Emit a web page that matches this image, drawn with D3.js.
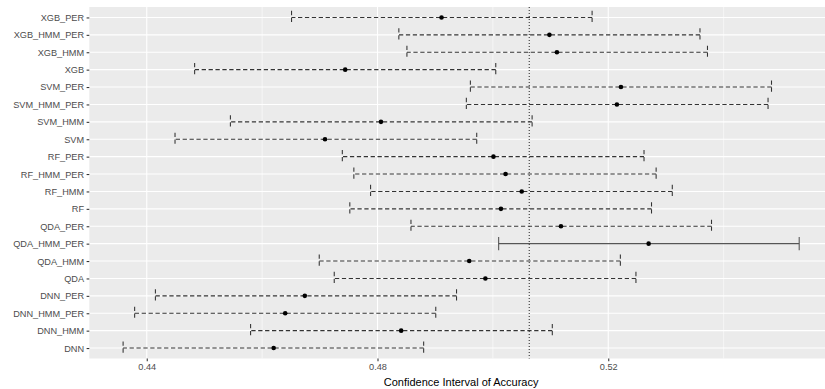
<!DOCTYPE html>
<html><head><meta charset="utf-8">
<script src="https://cdn.jsdelivr.net/npm/d3@7"></script>
<style>body{margin:0;background:#fff}svg{display:block}</style>
</head><body>
<svg id="c" width="825" height="389"></svg>
<script>
const models = ["XGB_PER","XGB_HMM_PER","XGB_HMM","XGB","SVM_PER","SVM_HMM_PER","SVM_HMM","SVM",
  "RF_PER","RF_HMM_PER","RF_HMM","RF","QDA_PER","QDA_HMM_PER","QDA_HMM","QDA",
  "DNN_PER","DNN_HMM_PER","DNN_HMM","DNN"];
const accuracy = [0.4911,0.5098,0.5111,0.4744,0.5222,0.5215,0.4806,0.4709,
  0.5001,0.5022,0.5050,0.5014,0.5118,0.5270,0.4959,0.4987,
  0.4674,0.4640,0.4841,0.4620];
const lower = [0.4651,0.4837,0.4851,0.4483,0.4961,0.4954,0.4545,0.4449,
  0.4739,0.4759,0.4788,0.4752,0.4858,0.5010,0.4699,0.4725,
  0.4415,0.4379,0.4580,0.4359];
const upper = [0.5172,0.5359,0.5372,0.5005,0.5483,0.5477,0.5068,0.4972,
  0.5262,0.5283,0.5311,0.5275,0.5379,0.5531,0.5221,0.5248,
  0.4937,0.4901,0.5103,0.4880];
const solidModel = "QDA_HMM_PER";
const referenceLine = 0.5063;
const xTicks = [0.44, 0.48, 0.52];
const xMinor = [0.46, 0.50, 0.54];
const xTitle = "Confidence Interval of Accuracy";

const svg = d3.select("#c");
const L = 89.3, R = 833, T = 7, B = 358.5;
const lo = d3.min(lower), hi = d3.max(upper), pad = (hi - lo) * 0.05;
const x = d3.scaleLinear().domain([lo - pad, hi + pad]).range([L, R]);
const y = d3.scalePoint().domain(models).range([T, B]).padding(0.6);

const font = "'Liberation Sans', Arial, sans-serif";
svg.append("rect").attr("x", L).attr("y", T).attr("width", R - L).attr("height", B - T).attr("fill", "#ebebeb");

const g = svg.append("g");
g.selectAll(".minor").data(xMinor).join("line")
  .attr("x1", d => x(d)).attr("x2", d => x(d)).attr("y1", T).attr("y2", B)
  .attr("stroke", "#fff").attr("stroke-width", 0.55);
g.selectAll(".majx").data(xTicks).join("line")
  .attr("x1", d => x(d)).attr("x2", d => x(d)).attr("y1", T).attr("y2", B)
  .attr("stroke", "#fff").attr("stroke-width", 1.1);
g.selectAll(".majy").data(models).join("line")
  .attr("x1", L).attr("x2", R).attr("y1", d => y(d)).attr("y2", d => y(d))
  .attr("stroke", "#fff").attr("stroke-width", 1.1);

// reference line
svg.append("line").attr("x1", x(referenceLine)).attr("x2", x(referenceLine))
  .attr("y1", T).attr("y2", B).attr("stroke", "#222").attr("stroke-width", 1)
  .attr("stroke-dasharray", "1,2");

const data = models.map((m, i) => ({m, acc: accuracy[i], lo: lower[i], hi: upper[i]}));
const capH = 6.6;
const eb = svg.append("g").selectAll("g").data(data).join("g");
const styleLine = sel => sel
  .attr("stroke", d => d.m === solidModel ? "#555" : "#333")
  .attr("stroke-width", 1.07)
  .attr("fill", "none")
  .attr("stroke-dasharray", d => d.m === solidModel ? null : "4.3,2.6");
eb.append("line").attr("x1", d => x(d.hi)).attr("x2", d => x(d.hi))
  .attr("y1", d => y(d.m) - capH).attr("y2", d => y(d.m) + capH).call(styleLine);
eb.append("line").attr("x1", d => x(d.hi)).attr("x2", d => x(d.lo))
  .attr("y1", d => y(d.m)).attr("y2", d => y(d.m)).call(styleLine);
eb.append("line").attr("x1", d => x(d.lo)).attr("x2", d => x(d.lo))
  .attr("y1", d => y(d.m) - capH).attr("y2", d => y(d.m) + capH).call(styleLine);
eb.append("circle").attr("cx", d => x(d.acc)).attr("cy", d => y(d.m)).attr("r", 2.3).attr("fill", "#000");

// axes
const xAxis = svg.append("g").attr("transform", `translate(0,${B})`)
  .call(d3.axisBottom(x).tickValues(xTicks).tickSize(2.7).tickPadding(2.5).tickFormat(d3.format(".2f")));
xAxis.select(".domain").remove();
xAxis.selectAll("line").attr("stroke", "#333").attr("stroke-width", 1.07);
xAxis.selectAll("text").attr("fill", "#4d4d4d").style("font-family", font).style("font-size", "9.2px");

const yAxis = svg.append("g").attr("transform", `translate(${L},0)`)
  .call(d3.axisLeft(y).tickSize(2.7).tickPadding(2.5));
yAxis.select(".domain").remove();
yAxis.selectAll("line").attr("stroke", "#333").attr("stroke-width", 1.07);
yAxis.selectAll("text").attr("fill", "#4d4d4d").style("font-family", font).style("font-size", "9.2px");

svg.append("text").attr("x", (L + R) / 2).attr("y", 385.5).attr("text-anchor", "middle")
  .attr("fill", "#000").style("font-family", font).style("font-size", "11px").text(xTitle);
</script>
</body></html>
